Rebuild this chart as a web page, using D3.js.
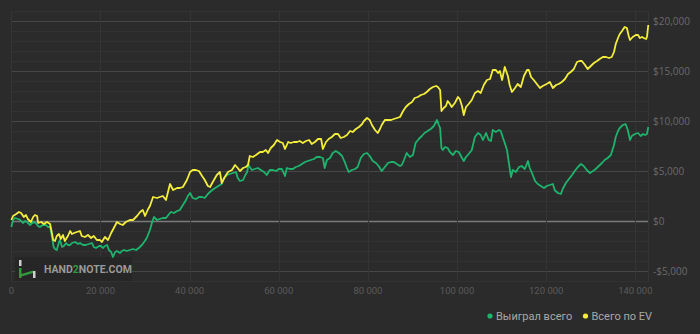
<!DOCTYPE html>
<html><head><meta charset="utf-8">
<script src="https://cdn.jsdelivr.net/npm/d3@7"></script>
<style>body{margin:0;background:#2b2b2b;overflow:hidden}svg{display:block}</style>
</head><body><svg id="c" width="700" height="334"></svg>
<script>
// ---- data (hands in thousands, winnings in $) ----
const evHandsK = [0,0.4,1.1,1.7,2.2,2.8,3.3,3.7,4.4,4.9,5.3,5.8,6.0,6.7,7.3,8.0,8.7,9.1,9.4,9.8,10.2,10.7,11.1,11.6,12.0,12.7,13.2,13.6,14.1,14.7,15.4,15.8,16.5,17.2,17.9,18.5,19.2,19.9,20.3,21.0,21.7,22.4,23.0,23.7,24.4,25.0,25.7,26.6,27.3,28.2,28.9,29.5,30.0,30.7,31.1,31.8,32.7,33.3,34.0,34.7,35.6,36.3,37.2,37.8,38.5,39.4,40.1,40.7,41.4,42.1,42.8,43.4,44.1,44.6,45.2,46.1,46.8,47.2,47.9,48.6,49.5,50.2,50.8,51.3,52.0,52.6,53.1,53.5,54.2,54.9,55.8,56.4,57.1,57.6,58.2,58.9,59.6,60.3,60.9,61.4,62.1,62.7,63.4,64.1,64.7,65.4,66.1,66.8,67.4,68.1,68.8,69.5,69.9,70.6,71.2,71.9,72.6,73.3,73.9,74.6,75.3,76.0,76.6,77.3,78.0,78.7,79.1,79.8,80.4,80.9,81.6,82.2,82.7,83.1,83.8,84.5,85.2,85.8,86.5,87.2,87.9,88.5,89.2,89.9,90.5,91.2,91.9,92.6,93.2,93.9,94.6,95.3,95.7,96.2,96.5,97.0,97.5,97.9,98.4,98.8,99.5,100.2,100.6,101.1,101.5,102.0,102.6,103.3,104.0,104.7,105.3,106.0,106.7,107.4,108.0,108.7,109.2,109.6,110.1,110.7,111.4,111.8,112.3,113.0,113.6,114.3,115.0,115.7,116.1,116.6,117.2,117.9,118.6,119.2,120.1,120.8,121.5,122.2,122.8,123.5,124.2,124.9,125.5,126.2,126.9,127.5,128.0,128.7,129.3,130.0,130.7,131.4,132.0,132.7,133.4,134.1,134.7,135.2,135.6,136.1,136.5,137.0,137.6,138.1,138.5,138.8,139.4,140.1,140.6,141.0,141.5,141.9,142.4,142.6,142.9];
const evValues = [130,530,730,930,830,430,630,230,-70,430,630,530,-170,-70,-270,-70,-270,-1170,-1870,-1970,-1470,-1270,-1770,-1370,-1970,-1470,-970,-1270,-1170,-1070,-970,-1470,-1570,-1370,-1670,-1470,-1870,-1870,-2070,-1570,-1870,-1170,-670,-70,-270,-370,-70,130,130,530,930,1130,530,1230,1530,2430,2330,2430,2530,2130,3730,3130,3330,3330,3430,4130,4930,5130,5130,5030,4530,4130,3530,3430,3930,4630,4930,3830,4430,4930,5130,5630,5330,5030,5330,5430,5630,6530,6430,6630,6930,6930,7130,6830,7330,7630,8130,7930,7830,7230,7930,7830,7930,7930,8030,7830,8030,8130,7730,7930,8230,8230,7230,7930,8230,8430,8730,8730,8330,8430,8630,9030,8930,9230,9430,9730,10030,10330,10130,9630,9130,8830,9230,9630,10130,10130,10130,10230,10330,10430,11030,11430,11730,11930,12330,12430,12630,12730,12930,13230,13430,13530,13430,13130,11030,11330,11530,12030,11730,11430,11830,12430,12230,11530,10630,11430,11730,12130,12830,13030,12830,13630,14130,14230,15130,15130,14830,15030,14130,15430,14530,13630,12930,13330,13730,13430,14530,15130,15130,14430,14130,13730,13330,13530,13730,13930,13330,13630,13730,13930,14230,14730,14930,15230,15930,16030,16030,15630,15230,15530,15830,16030,16230,16430,16430,16330,16430,16930,17730,18330,18730,19030,19430,19330,18530,18130,18430,18630,18630,18330,18430,18330,18230,18430,19630];
const wonHandsK = [0,0.4,0.8,1.5,2.0,2.6,3.1,3.5,4.2,4.9,5.5,6.0,6.4,7.1,7.8,8.2,8.7,9.1,9.5,9.8,10.2,10.7,10.9,11.4,11.8,12.3,12.7,13.2,13.6,14.3,15.0,15.4,16.1,16.7,17.4,18.1,18.5,19.0,19.7,20.1,20.6,21.0,21.5,21.9,22.4,22.8,23.3,23.7,24.4,24.8,25.3,25.9,26.6,27.3,28.0,28.6,29.3,29.8,30.4,31.1,31.6,32.0,32.7,33.3,34.0,34.7,35.4,35.8,36.5,37.2,37.8,38.5,39.2,39.6,40.1,40.7,41.4,42.1,42.8,43.4,44.1,44.8,45.4,46.1,46.8,47.2,47.7,48.4,49.0,49.7,50.4,50.8,51.3,52.0,52.4,52.9,53.2,53.5,54.0,54.6,55.3,56.0,56.7,57.3,58.0,58.7,59.4,60.0,60.7,61.4,61.8,62.5,63.2,63.8,64.5,65.2,65.9,66.5,67.2,67.9,68.5,69.2,69.9,70.3,70.8,71.5,72.1,72.8,73.5,74.2,74.8,75.3,75.7,76.4,77.1,77.7,78.4,79.1,79.8,80.4,81.1,81.8,82.4,83.1,83.8,84.5,85.2,85.8,86.5,87.2,87.6,88.1,88.7,89.4,90.1,90.7,91.4,92.1,92.7,93.4,94.1,94.8,95.5,95.9,96.2,96.5,96.8,97.3,97.9,98.4,99.1,99.7,100.4,101.1,101.5,102.0,102.6,103.3,104.0,104.7,105.3,105.8,106.5,107.1,107.6,108.0,108.7,109.4,109.8,110.3,110.7,111.2,111.6,112.1,112.5,113.2,113.9,114.5,115.2,115.9,116.3,116.8,117.5,118.1,118.8,119.5,120.1,120.8,121.5,121.9,122.6,123.3,123.7,124.4,125.1,125.8,126.4,127.1,127.8,128.4,129.1,129.8,130.5,131.1,131.8,132.5,133.1,133.8,134.5,135.2,135.6,136.1,136.5,137.2,137.8,138.3,138.8,139.2,139.9,140.6,141.2,141.7,142.2,142.6,142.9];
const wonValues = [-570,130,330,230,130,-170,30,-70,-370,-70,-170,-470,-570,-370,-370,-570,-570,-1470,-2570,-2770,-2870,-2070,-1870,-2570,-2470,-2170,-2370,-2370,-2170,-2070,-2270,-2170,-2370,-2370,-2270,-2170,-2570,-2670,-2470,-2470,-2670,-2470,-2370,-2870,-3070,-3570,-3070,-2970,-3170,-2970,-2870,-2970,-2870,-2770,-2870,-2670,-2370,-2070,-1670,-870,-70,430,130,230,330,330,730,930,830,1030,1130,1630,2130,2530,2830,2330,2230,2430,2430,2330,2730,3030,3230,3430,3630,3730,4330,4630,4730,4830,4930,4330,4030,4130,4530,4930,5630,5430,5130,5230,5330,5130,4930,4630,5130,5130,5030,5230,5230,4530,5330,5230,5230,5430,5530,5730,5930,6030,6130,6230,6430,6430,6330,5330,6130,6330,6830,7030,6830,6530,5930,5330,4930,5130,5230,5430,6330,6730,6830,6530,6030,5830,5530,5030,5430,5830,5930,5930,5730,5530,5630,6130,6830,6430,6630,7830,8230,8530,8830,9030,9230,9530,10130,9630,9330,7330,7130,7430,7330,6930,6630,7030,6930,6330,6030,6430,6730,7130,8430,8830,8630,8130,8830,8130,8030,9130,8930,9130,9030,8330,7830,7130,5930,4430,5130,4930,5430,5530,5230,6030,5330,4830,4030,3730,3530,3330,3530,3630,3730,3130,2830,2730,3230,3830,4230,4630,5030,5430,5730,5530,5130,4830,5030,5230,5530,5830,6130,6330,6630,7630,8430,9030,9330,9630,9730,9130,8130,8530,8730,8830,8530,8730,8630,8730,9430];
const xTickValues = [0,20000,40000,60000,80000,100000,120000,140000];
const yTickValues = [-5000,0,5000,10000,15000,20000];
const seriesNames = ["Выиграл всего","Всего по EV"];
const seriesColors = ["#1db46e","#f4ee3b"];
const handsMax = 142900;
const yMin = -6000, yMax = 21000;

// ---- chart ----
const svg = d3.select("#c");
const W = 700, H = 334;
svg.append("rect").attr("width",W).attr("height",H).attr("fill","#2b2b2b");
const x = d3.scaleLinear().domain([0,handsMax]).range([11.3,648.3]);
const y = d3.scaleLinear().domain([yMin,yMax]).range([281.3,11.3]);

const grid = svg.append("g");
// minor horizontal lines every 1000
const minor = d3.range(yMin, yMax+1, 1000);
grid.selectAll("line.mn").data(minor).join("line")
  .attr("x1",x(0)).attr("x2",x(handsMax))
  .attr("y1",d=>Math.round(y(d))+0.5).attr("y2",d=>Math.round(y(d))+0.5)
  .attr("stroke", d=> d===0 ? "#7a7a7a" : (d%5000===0 ? "#474747" : "#323232"))
  .attr("stroke-width", d=> d===0 ? 1.6 : 1);
// vertical grid
grid.selectAll("line.v").data(xTickValues.concat([handsMax])).join("line")
  .attr("y1",y(yMax)).attr("y2",y(yMin))
  .attr("x1",d=>Math.round(x(d))+0.5).attr("x2",d=>Math.round(x(d))+0.5)
  .attr("stroke","#353535");
// bring 0 line above
grid.selectAll("line").filter(d=>d===0 && false);

// logo box (behind lines)
const logo = svg.append("g");
logo.append("rect").attr("x",15).attr("y",257).attr("width",117).attr("height",24).attr("fill","#262626");
logo.append("rect").attr("x",19).attr("y",260).attr("width",2.5).attr("height",6).attr("fill","#cfcfcf");
logo.append("path").attr("d","M19 268 L21.5 268 L21.5 274 L33 270.5 L33 273 L21.5 276.5 L21.5 278 L19 278 Z").attr("fill","#2f9a3a");
logo.append("rect").attr("x",33).attr("y",271).attr("width",2.5).attr("height",7).attr("fill","#cfcfcf");
const lt = logo.append("text").attr("x",44).attr("y",273).attr("font-family","Roboto, 'Open Sans', sans-serif")
  .attr("font-weight","bold").attr("font-size",10.5).attr("fill","#9a9a9a");
lt.append("tspan").text("HAND");
lt.append("tspan").attr("fill","#2f9a3a").text("2");
lt.append("tspan").text("NOTE.COM");

// lines
const line = d3.line().x(d=>x(d[0])).y(d=>y(d[1]));
const won = wonHandsK.map((h,i)=>[h*1000, wonValues[i]]);
const ev = evHandsK.map((h,i)=>[h*1000, evValues[i]]);
svg.append("path").datum(won).attr("d",line).attr("fill","none").attr("stroke",seriesColors[0]).attr("stroke-width",1.8).attr("stroke-linejoin","round");
svg.append("path").datum(ev).attr("d",line).attr("fill","none").attr("stroke",seriesColors[1]).attr("stroke-width",1.8).attr("stroke-linejoin","round");

// y labels
const fmt = d3.format(",");
svg.append("g").selectAll("text").data(yTickValues).join("text")
  .attr("x",653).attr("y",d=>y(d)).attr("dy","0.35em")
  .attr("font-family","'Open Sans', sans-serif").attr("font-size",10).attr("fill","#6a6a6a")
  .text(d=> (d<0?"-$":"$") + fmt(Math.abs(d)));
// x labels
svg.append("g").selectAll("text").data(xTickValues).join("text")
  .attr("x",d=>x(d)).attr("y",291).attr("dy","0.35em").attr("text-anchor","middle")
  .attr("font-family","Roboto, sans-serif").attr("font-size",9.5).attr("fill","#5a5a5a")
  .text(d=> d3.format(",")(d).replace(/,/g," "));

// legend
const leg = svg.append("g");
const legX = [490, 585.5];
seriesNames.forEach((n,i)=>{
  leg.append("circle").attr("cx",legX[i]).attr("cy",316).attr("r",2.6).attr("fill",seriesColors[i]);
  leg.append("text").attr("x",legX[i]+6).attr("y",316).attr("dy","0.35em")
    .attr("font-family","Roboto, sans-serif").attr("font-size",11).attr("fill","#a8a8a8").text(n);
});
</script></body></html>
